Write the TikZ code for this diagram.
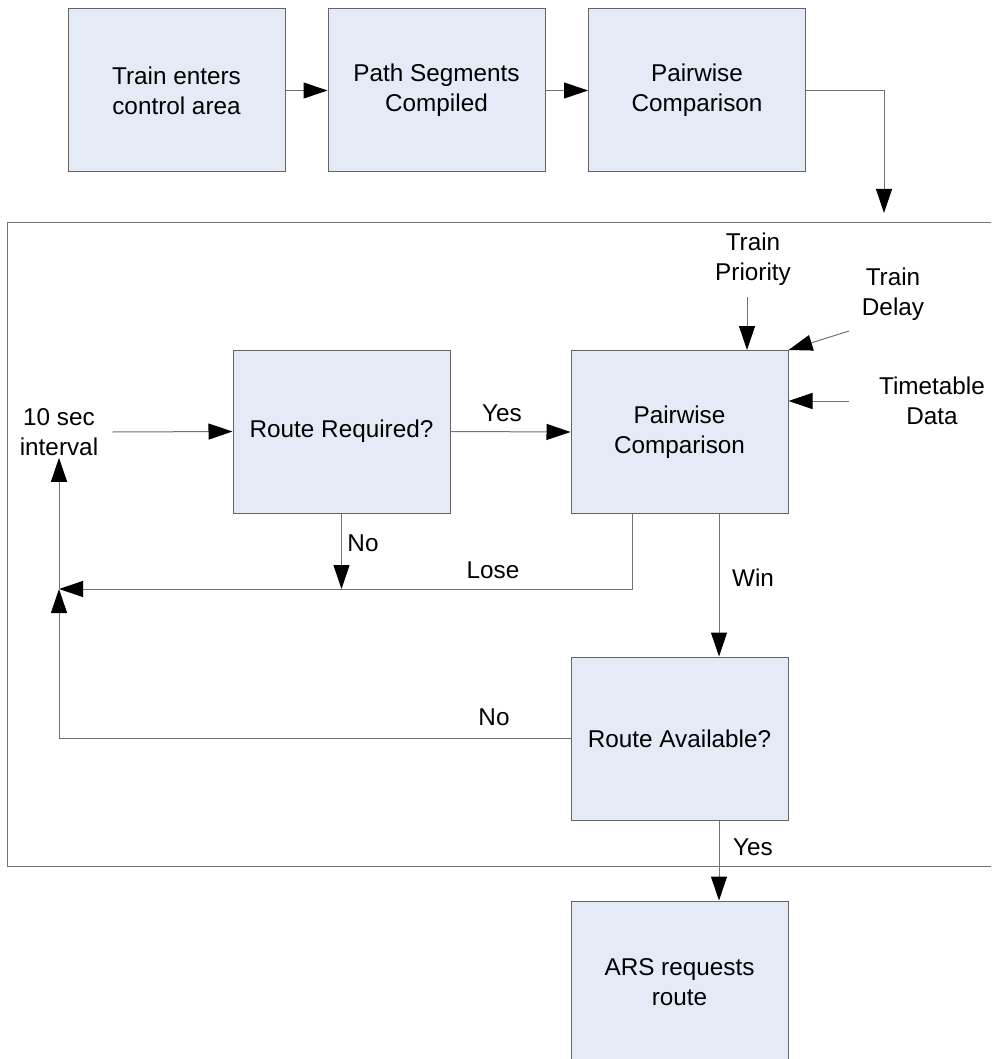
\documentclass[tikz,border=0pt]{standalone}
\usepackage{fontspec}
\setmainfont{Liberation Sans}
\usetikzlibrary{arrows.meta,calc}
\definecolor{boxfill}{RGB}{228,234,246}
\definecolor{boxline}{RGB}{100,100,100}
\definecolor{connc}{RGB}{115,115,115}
\begin{document}
\begin{tikzpicture}[x=1pt,y=-1pt,
  box/.style={draw=boxline,fill=boxfill,line width=1pt,minimum width=217pt,minimum height=163pt,align=center,inner sep=0pt,font=\fontsize{24.3}{30}\selectfont},
  lbl/.style={align=center,inner sep=0pt,font=\fontsize{24.3}{30}\selectfont},
  conn/.style={draw=connc,line width=1pt,-{Triangle[length=24pt,width=16pt,color=black]}},
  plain/.style={draw=connc,line width=1pt}
]
\path[use as bounding box] (0,0) rectangle (991,1059);
\clip (0,0) rectangle (991,1059);
\fill[white] (0,0) rectangle (991,1059);

% frame
\draw[plain] (7,223) rectangle (1000,866);

% boxes
\node[box] (b1) at (176.5,90.5) {Train enters\\control area};
\node[box] (b2) at (436.5,90.5) {Path Segments\\Compiled};
\node[box] (b3) at (697,90.5) {Pairwise\\Comparison};
\node[box] (rr) at (341.5,431.5) {Route Required?};
\node[box] (pc) at (679.5,432) {Pairwise\\Comparison};
\node[box] (ra) at (679.5,738.5) {Route Available?};
\node[box] (ars) at (679.5,982.5) {ARS requests\\route};

% text nodes
\node[lbl] (int) at (59,432) {10 sec\\interval};
\node[lbl] (prio) at (753,259) {Train\\Priority};
\node[lbl] (delay) at (893,294) {Train\\Delay};
\node[lbl] (tt) at (932,401) {Timetable\\Data};

% free-end coordinates
\coordinate (entry) at (884,213);
\coordinate (junc) at (59,589);
\coordinate (prioEnd) at (747,297);
\coordinate (delayEnd) at (849,331);
\coordinate (ttEnd) at (849,401);

% top row
\draw[conn] (b1.east) -- (b2.west);
\draw[conn] (b2.east) -- (b3.west);
\draw[conn] (b3.east) -| (entry);

% inner flow
\draw[conn] ($(int.east)+(14,0)$) -- (rr.west);
\draw[conn] (rr.east) -- (pc.west);
\draw[conn] (prioEnd) -- (prioEnd |- pc.north);
\draw[conn] (delayEnd) -- (pc.north east);
\draw[conn] (ttEnd) -- (ttEnd -| pc.east);
\draw[conn] ($(pc.south)+(39.5,0)$) -- ($(ra.north)+(39.5,0)$);
\draw[conn] ($(ra.south)+(39.5,0)$) -- ($(ars.north)+(39.5,0)$);
\draw[conn] (rr.south) -- (rr.south |- junc);
\draw[conn] ($(pc.south)+(-47.5,0)$) |- (junc);
\draw[conn] (ra.west) -| (junc);
\draw[conn] (junc) -- ($(int.south)+(0,2)$);

% labels
\node[lbl] at (502,413) {Yes};
\node[lbl] at (363,543) {No};
\node[lbl] at (493,570) {Lose};
\node[lbl] at (753,578) {Win};
\node[lbl] at (494,717) {No};
\node[lbl] at (753,847) {Yes};
\end{tikzpicture}
\end{document}
